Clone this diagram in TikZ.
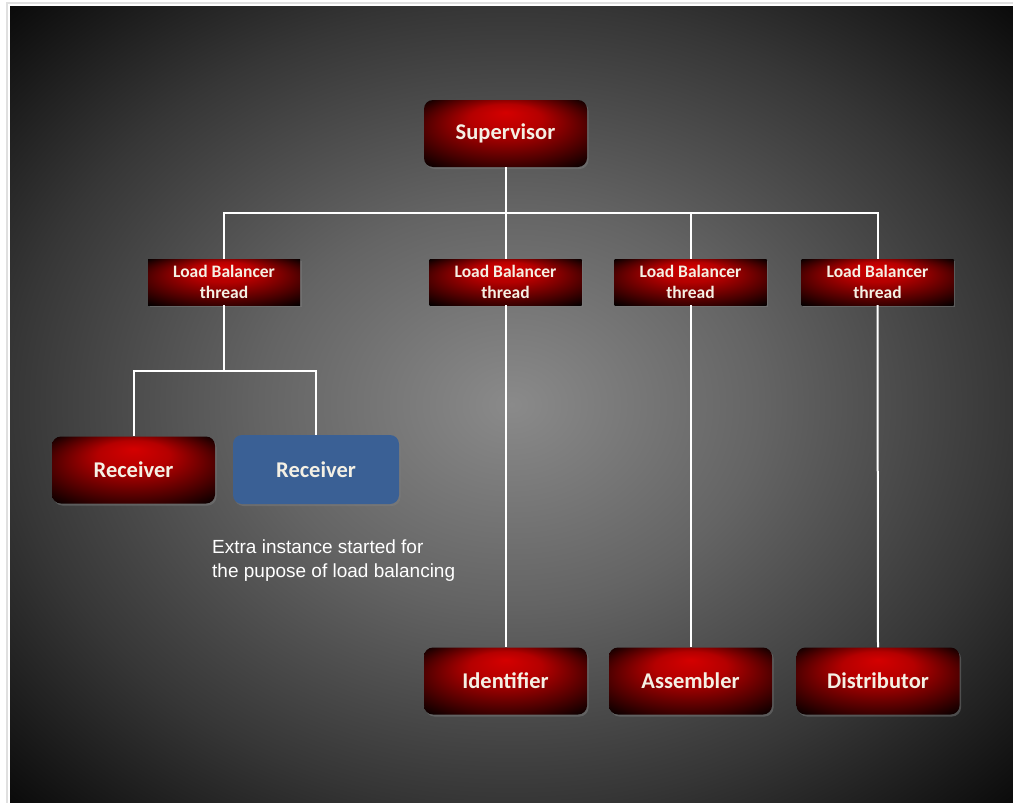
\documentclass[tikz,border=0pt]{standalone}
\usepackage{fontspec}
\setmainfont{Carlito}
\newfontfamily\notefont{Liberation Sans}
\usetikzlibrary{shadows}

\definecolor{boxred}{HTML}{D40000}
\definecolor{txtcream}{HTML}{F4F0E4}
\definecolor{rcvblue}{HTML}{3A6095}
\definecolor{bgmid}{HTML}{8A8A8A}
\definecolor{bgring}{HTML}{646464}
\definecolor{bgedge}{HTML}{363636}
\definecolor{bgcorner}{HTML}{080808}

\pgfdeclareradialshading{redglow}{\pgfpoint{0bp}{16bp}}{color(0bp)=(boxred); color(11bp)=(boxred!85!black); color(25bp)=(boxred!38!black); color(36bp)=(black)}
\pgfdeclareradialshading{bgglow}{\pgfpoint{0bp}{0bp}}{color(0bp)=(bgmid); color(12.5bp)=(bgring); color(25bp)=(bgedge); color(36bp)=(bgcorner)}

\begin{document}
\begin{tikzpicture}[x=1pt, y=-1pt,
    boxbase/.style={rounded corners=9pt, minimum width=163pt, minimum height=67pt,
        inner sep=0pt, text=txtcream, font=\fontsize{22.5}{26}\selectfont\bfseries,
        drop shadow={shadow xshift=1.5pt, shadow yshift=-2pt, opacity=0.45}},
    redbox/.style={boxbase, shading=redglow},
    bluebox/.style={boxbase, fill=rcvblue},
    lbbox/.style={shading=redglow, minimum width=152pt, minimum height=46pt, inner sep=0pt,
        align=center, text=txtcream, font=\fontsize{17.5}{21}\selectfont\bfseries,
        drop shadow={shadow xshift=1.5pt, shadow yshift=-2pt, opacity=0.45}},
    wire/.style={white, line width=2pt}]

    % page and backdrop
    \useasboundingbox (0,0) rectangle (1013,803);
    \fill[white] (0,0) rectangle (1013,803);
    \draw[black!12, line width=1.5pt] (7,803) -- (7,3) -- (1013,3);
    \shade[shading=bgglow] (10,6) rectangle (1013,803);

    % nodes
    \node[redbox] (sup) at (505.5,133.5) {Supervisor};

    \node[lbbox] (lb1) at (224,282) {Load Balancer\\thread};
    \node[lbbox] (lb2) at (505.5,282) {Load Balancer\\thread};
    \node[lbbox] (lb3) at (690.5,282) {Load Balancer\\thread};
    \node[lbbox] (lb4) at (877.5,282) {Load Balancer\\thread};

    \node[redbox] (rcv1) at (133.5,470) {Receiver};
    \node[bluebox, minimum width=166pt, minimum height=69pt] (rcv2) at (316,469.5) {Receiver};

    \node[redbox] (ident) at (505.5,681) {Identifier};
    \node[redbox] (asm) at (690.5,681) {Assembler};
    \node[redbox] (dist) at (878,681) {Distributor};

    \node[anchor=north west, align=left, inner sep=0pt, text=white,
        font=\notefont\fontsize{19}{24}\selectfont] (note) at (212,540)
        {Extra instance started for\\the pupose of load balancing};

    % connectors
    \coordinate (bus) at (505.5,213);
    \coordinate (split) at (224,371);
    \draw[wire] (sup.south) -- (bus);
    \draw[wire] (bus) -| (lb1.north);
    \draw[wire] (bus) -- (lb2.north);
    \draw[wire] (bus) -| (lb3.north);
    \draw[wire] (bus) -| (lb4.north);
    \draw[wire] (lb1.south) -- (split);
    \draw[wire] (split) -| (rcv1.north);
    \draw[wire] (split) -| (rcv2.north);
    \draw[wire] (lb2.south) -- (ident.north);
    \draw[wire] (lb3.south) -- (asm.north);
    \draw[wire] (lb4.south) -- (dist.north);
\end{tikzpicture}
\end{document}
